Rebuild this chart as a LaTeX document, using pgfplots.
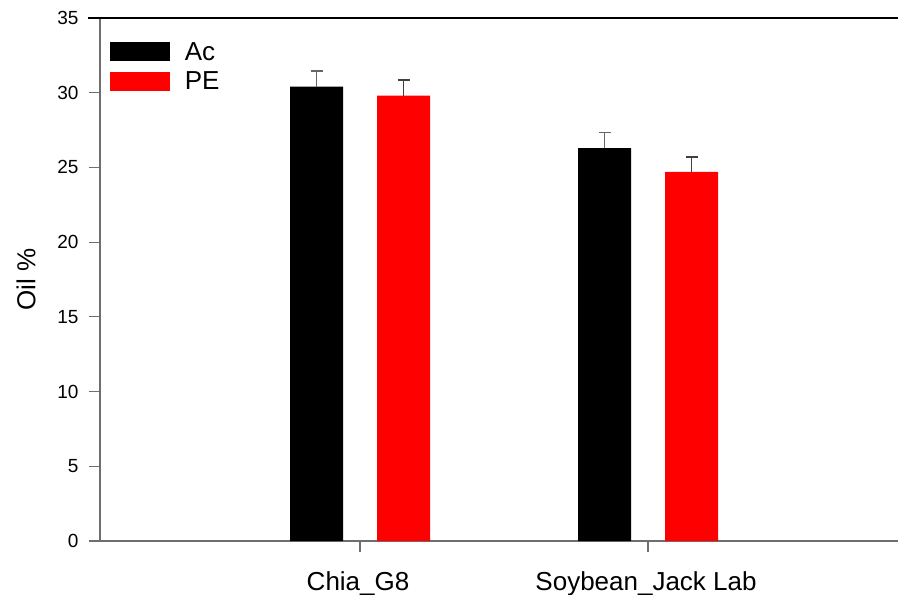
\documentclass[border=0pt]{standalone}
\usepackage{pgfplots}
\pgfplotsset{compat=1.18}
\usepackage{fontspec}
\setmainfont{Liberation Sans}
\definecolor{axgray}{RGB}{110,110,110}
\begin{document}
\begin{tikzpicture}
\begin{axis}[
  scale only axis,
  width=798bp, height=523bp,
  xmin=-0.903, xmax=1.868,
  ymin=0, ymax=35,
  ytick={0,5,...,35},
  xtick={0,1},
  xticklabels={Chia\_G8, Soybean\_Jack Lab},
  axis x line*=bottom,
  axis y line*=left,
  axis line style={axgray, line width=1.4bp, -},
  tick align=outside,
  major tick length=11bp,
  tick style={axgray, line width=1.2bp},
  /pgf/number format/assume math mode=true,
  yticklabel style={font=\fontsize{19bp}{22bp}\selectfont, xshift=-7bp},
  xticklabel style={font=\fontsize{26bp}{30bp}\selectfont, yshift=-16bp, xshift=-2bp},
  ylabel={Oil \%},
  every axis y label/.style={at={(rel axis cs:0,0.5)}, rotate=90, anchor=center, yshift=74bp, font=\fontsize{26bp}{30bp}\selectfont},
  legend style={draw=none, fill=none, at={(rel axis cs:0.012,0.958)}, anchor=north west,
    font=\fontsize{26bp}{30bp}\selectfont, inner sep=0pt, row sep=6bp},
  legend cell align=left,
  legend image code/.code={\path[#1] (0bp,-9.5bp) rectangle (60bp,9.5bp); \path (73bp,0bp);},
  bar width=53bp,
  bar shift=0pt,
  clip=false,
]
\addplot[ybar, bar shift=0pt, fill=black, draw=none,
  error bars/.cd, y dir=plus, y explicit,
  error bar style={black!60, line width=1.3bp},
  error mark options={rotate=90, mark size=6bp, black!60, line width=1.3bp}]
  coordinates {(-0.151,30.4) +- (0,1.05) (0.849,26.3) +- (0,1.05)};
\addlegendentry{Ac}
\addplot[ybar, bar shift=0pt, fill=red, draw=none,
  error bars/.cd, y dir=plus, y explicit,
  error bar style={black!75, line width=1.3bp},
  error mark options={rotate=90, mark size=6bp, black!75, line width=1.3bp}]
  coordinates {(0.151,29.8) +- (0,1.05) (1.151,24.7) +- (0,1.0)};
\addlegendentry{PE}
\draw[black, line width=1.6bp] ([xshift=-12bp]rel axis cs:0,1) -- (rel axis cs:1,1);
\coordinate (bl) at (rel axis cs:0,0);
\coordinate (tr) at (rel axis cs:1,1);
\end{axis}
\pgfresetboundingbox
\path ([xshift=-100bp,yshift=-54bp]bl) rectangle ([yshift=18bp]tr);
\end{tikzpicture}
\end{document}
